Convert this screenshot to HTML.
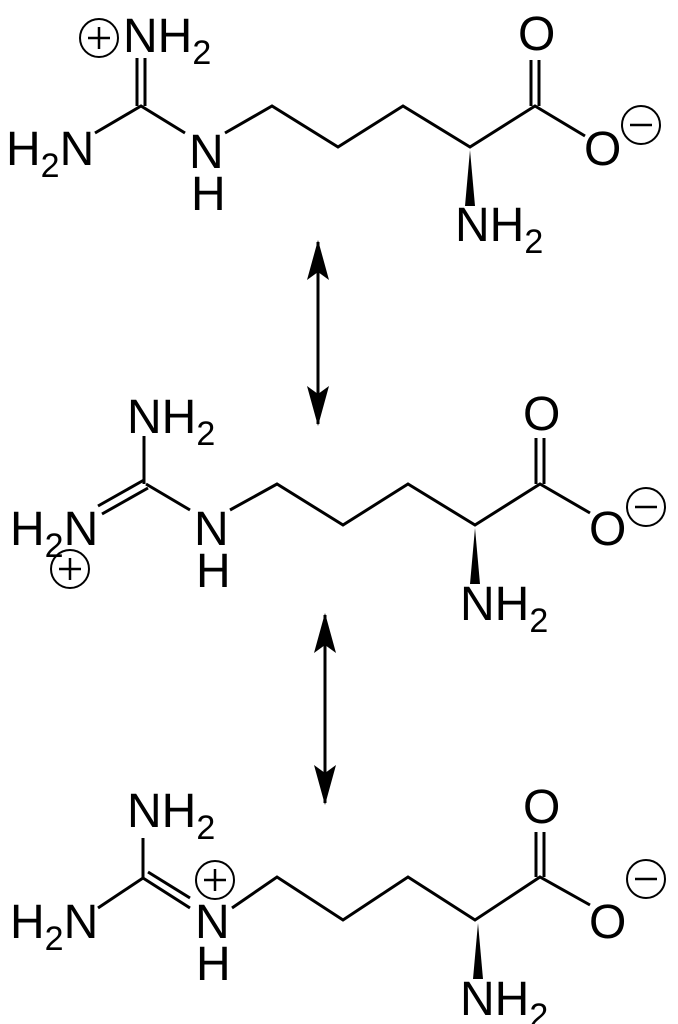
<!DOCTYPE html>
<html><head><style>
html,body{margin:0;padding:0;background:#fff;width:678px;height:1024px;overflow:hidden}
svg text{font-family:"Liberation Sans",Arial,sans-serif;fill:#000}
</style></head><body>
<svg width="678" height="1024" viewBox="0 0 678 1024" xmlns="http://www.w3.org/2000/svg">
<defs>
<marker id="ah" viewBox="0 0 40 24" refX="38" refY="12" markerWidth="40" markerHeight="24" markerUnits="userSpaceOnUse" orient="auto-start-reverse">
<path d="M0,1 L40,12 L0,23 L8,12 Z" fill="#000"/>
</marker>
</defs>
<g stroke="#000" stroke-width="3" fill="none">
<!-- top molecule -->
<g>
<path d="M95,133 L141,106 L185,133"/>
<path d="M137,106 V58 M145,106 V58"/>
<path d="M225,133 L272,106 L338,147 L403,106 L470,147 L535,106 L585,136"/>
<path d="M531,106 V60 M539,106 V60"/>
<circle cx="99" cy="38" r="19" stroke-width="2"/><path d="M88,38 H110 M99,27 V49" stroke-width="2.5"/>
<circle cx="641" cy="125" r="19" stroke-width="2"/><path d="M630,125 H652" stroke-width="2.5"/>
</g>
<!-- middle -->
<g>
<path d="M146,484 L190,510"/>
<path d="M144,484 V436"/>
<path d="M98,506 L144,480 M102,514 L148,488"/>
<path d="M230,510 L277,484 L343,525 L408,484 L475,525 L540,484 L590,513"/>
<path d="M536,484 V438 M544,484 V438"/>
<circle cx="70" cy="569" r="19" stroke-width="2"/><path d="M59,569 H81 M70,558 V580" stroke-width="2.5"/>
<circle cx="646" cy="507" r="19" stroke-width="2"/><path d="M635,507 H657" stroke-width="2.5"/>
</g>
<!-- bottom -->
<g>
<path d="M98,908 L143,878 L190,908"/>
<path d="M143,878 V838"/>
<path d="M148,872 L190,898"/>
<path d="M232,908 L277,877 L343,920 L408,877 L475,920 L540,877 L590,905"/>
<path d="M536,877 V832 M544,877 V832"/>
<circle cx="215" cy="880" r="19" stroke-width="2"/><path d="M204,880 H226 M215,869 V891" stroke-width="2.5"/>
<circle cx="646" cy="879" r="19" stroke-width="2"/><path d="M635,879 H657" stroke-width="2.5"/>
</g>
<!-- arrows -->
<line x1="318" y1="242" x2="318" y2="424" marker-start="url(#ah)" marker-end="url(#ah)"/>
<line x1="325" y1="615" x2="325" y2="803" marker-start="url(#ah)" marker-end="url(#ah)"/>
</g>
<!-- wedges -->
<path d="M470,150 L465,206 L475,206 Z" fill="#000"/>
<path d="M475,528 L470,584 L480,584 Z" fill="#000"/>
<path d="M478,923 L473,979 L483,979 Z" fill="#000"/>

<g font-size="48">
<!-- top -->
<text x="6" y="165">H<tspan font-size="34" dy="12">2</tspan><tspan dy="-12">N</tspan></text>
<text x="123" y="52">NH<tspan font-size="34" dy="12">2</tspan></text>
<text x="189" y="168">N</text>
<text x="191" y="210">H</text>
<text x="518" y="50">O</text>
<text x="584" y="165">O</text>
<text x="455" y="241">NH<tspan font-size="34" dy="12">2</tspan></text>
<!-- middle -->
<text x="10" y="545">H<tspan font-size="34" dy="12">2</tspan><tspan dy="-12">N</tspan></text>
<text x="127" y="433">NH<tspan font-size="34" dy="12">2</tspan></text>
<text x="194" y="545">N</text>
<text x="196" y="587">H</text>
<text x="523" y="430">O</text>
<text x="589" y="545">O</text>
<text x="460" y="620">NH<tspan font-size="34" dy="12">2</tspan></text>
<!-- bottom -->
<text x="10" y="938">H<tspan font-size="34" dy="12">2</tspan><tspan dy="-12">N</tspan></text>
<text x="127" y="827">NH<tspan font-size="34" dy="12">2</tspan></text>
<text x="195" y="938">N</text>
<text x="196" y="980">H</text>
<text x="523" y="823">O</text>
<text x="589" y="938">O</text>
<text x="460" y="1015">NH<tspan font-size="34" dy="12">2</tspan></text>
</g>
</svg>
</body></html>
